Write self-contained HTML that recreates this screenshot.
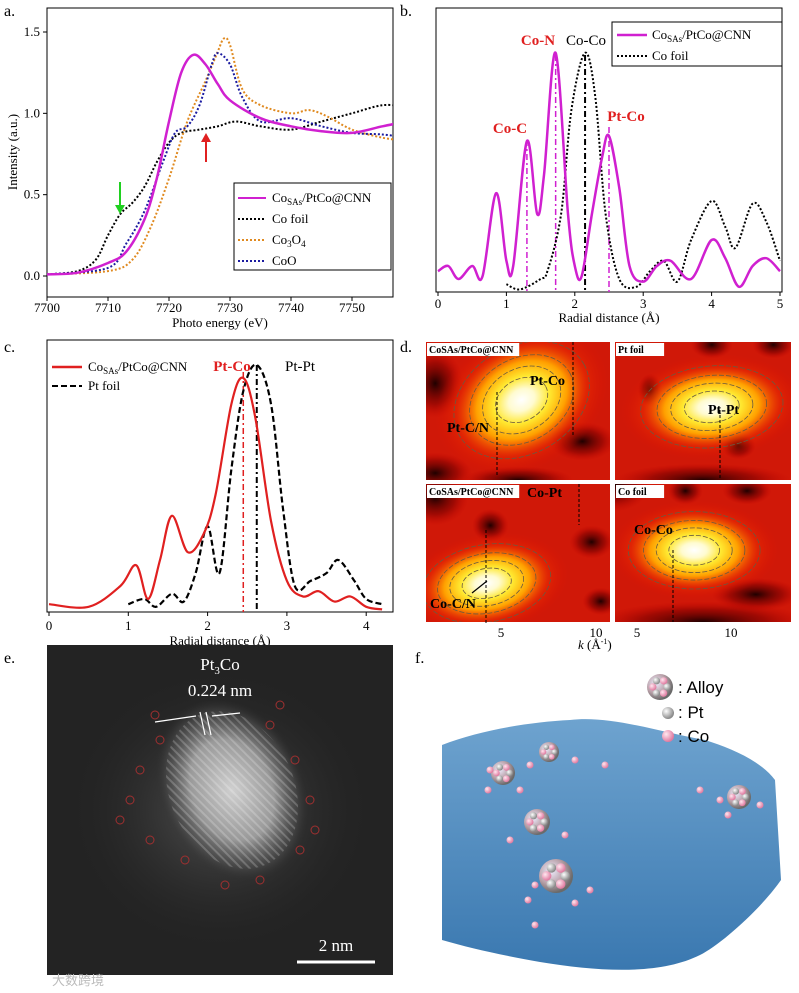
<!DOCTYPE html>
<html><head><meta charset="utf-8"><style>
body{margin:0;background:#fff;}
svg{display:block;font-family:"Liberation Serif",serif;}
</style></head><body>
<svg id="fig" width="799" height="993" viewBox="0 0 799 993" xmlns="http://www.w3.org/2000/svg">
<defs>
 <radialGradient id="hot" cx="50%" cy="50%" r="50%">
  <stop offset="0" stop-color="#ffffff"/><stop offset="0.15" stop-color="#fffbd0"/><stop offset="0.32" stop-color="#ffe830"/><stop offset="0.52" stop-color="#ffa000"/><stop offset="0.75" stop-color="#f03000" stop-opacity="0.5"/><stop offset="1" stop-color="#e01000" stop-opacity="0"/>
 </radialGradient>
 <radialGradient id="dark" cx="50%" cy="50%" r="50%">
  <stop offset="0" stop-color="#200000"/><stop offset="0.6" stop-color="#800000" stop-opacity="0.6"/><stop offset="1" stop-color="#c00000" stop-opacity="0"/>
 </radialGradient>
 <radialGradient id="blob" cx="50%" cy="50%" r="50%">
  <stop offset="0" stop-color="#d0d0d0"/><stop offset="0.55" stop-color="#999"/><stop offset="0.85" stop-color="#505050" stop-opacity="0.6"/><stop offset="1" stop-color="#303030" stop-opacity="0"/>
 </radialGradient>
 <radialGradient id="halo" cx="50%" cy="50%" r="50%">
  <stop offset="0" stop-color="#555"/><stop offset="1" stop-color="#262626" stop-opacity="0"/>
 </radialGradient>
 <radialGradient id="sph" cx="35%" cy="35%" r="65%">
  <stop offset="0" stop-color="#fff"/><stop offset="1" stop-color="#888"/>
 </radialGradient>
 <radialGradient id="sphp" cx="35%" cy="35%" r="65%">
  <stop offset="0" stop-color="#ffe8f0"/><stop offset="1" stop-color="#e07aa0"/>
 </radialGradient>
 <radialGradient id="sphA" cx="35%" cy="35%" r="65%">
  <stop offset="0" stop-color="#eef"/><stop offset="0.6" stop-color="#b9a0a8"/><stop offset="1" stop-color="#6a6a6a"/>
 </radialGradient>
 <linearGradient id="surf" x1="0" y1="0" x2="0" y2="1">
  <stop offset="0" stop-color="#6ea3cf"/><stop offset="1" stop-color="#3a78b0"/>
 </linearGradient>
 <pattern id="stripes" width="6" height="6" patternUnits="userSpaceOnUse" patternTransform="rotate(-20)">
  <rect width="6" height="6" fill="none"/><rect width="2" height="6" fill="#fff" opacity="0.2"/>
 </pattern>
 <clipPath id="clipA"><rect x="47" y="8" width="346" height="289"/></clipPath>
 <clipPath id="clipB"><rect x="436" y="8" width="346" height="284"/></clipPath>
 <clipPath id="clipC"><rect x="47" y="340" width="346" height="272"/></clipPath>
</defs>
<g id="layer"></g>
</svg>
<script>
// ---------- data ----------
const aE_mag=[7700,7705,7710,7713,7716,7718,7720,7722,7724,7726,7728,7730,7735,7740,7745,7750,7755,7759];
const aI_mag=[0.01,0.02,0.08,0.15,0.35,0.6,0.95,1.25,1.36,1.3,1.18,1.08,0.97,0.92,0.89,0.88,0.92,0.95];
const aE_foil=[7700,7705,7708,7710,7712,7714,7716,7718,7720,7722,7725,7728,7731,7735,7740,7745,7750,7755,7759];
const aI_foil=[0.01,0.03,0.1,0.25,0.38,0.45,0.55,0.7,0.82,0.88,0.9,0.92,0.95,0.92,0.9,0.95,1.0,1.05,1.04];
const aE_co3o4=[7700,7710,7714,7717,7720,7723,7726,7728,7729,7730,7732,7735,7740,7743,7746,7750,7755,7759];
const aI_co3o4=[0.01,0.03,0.1,0.3,0.6,0.95,1.2,1.38,1.46,1.42,1.15,1.05,1.0,1.02,0.98,0.9,0.85,0.83];
const aE_coo=[7700,7710,7713,7716,7719,7721,7723,7725,7727,7728,7730,7732,7735,7740,7745,7750,7755,7759];
const aI_coo=[0.01,0.05,0.2,0.4,0.7,0.88,0.92,1.05,1.3,1.37,1.3,1.1,0.95,0.97,0.92,0.88,0.87,0.85];
const aXTicks=[7700,7710,7720,7730,7740,7750];
const aYTicks=[0.0,0.5,1.0,1.5];

const bR_mag=[0,0.15,0.3,0.5,0.65,0.85,1.0,1.1,1.3,1.45,1.55,1.72,1.9,2.0,2.1,2.25,2.4,2.5,2.65,2.8,3.0,3.2,3.4,3.7,4.0,4.2,4.4,4.6,4.8,5.0];
const bV_mag=[0.08,0.1,0.05,0.1,0.06,0.38,0.12,0.1,0.58,0.3,0.45,0.92,0.3,0.1,0.06,0.3,0.52,0.6,0.4,0.1,0.04,0.1,0.12,0.05,0.2,0.13,0.02,0.1,0.13,0.08];
const bR_foil=[1.0,1.2,1.5,1.6,1.8,1.95,2.15,2.3,2.45,2.65,2.9,3.1,3.3,3.5,3.7,4.0,4.2,4.35,4.6,4.8,5.0];
const bV_foil=[0.03,0.01,0.05,0.08,0.3,0.7,0.92,0.75,0.3,0.05,0.02,0.08,0.12,0.04,0.2,0.35,0.25,0.17,0.34,0.27,0.12];
const bXTicks=[0,1,2,3,4,5];

const cR_co=[0,0.5,0.9,1.1,1.25,1.4,1.55,1.75,1.95,2.1,2.3,2.45,2.6,2.8,3.0,3.2,3.4,3.6,3.8,4.0,4.2];
const cV_co=[0.03,0.02,0.1,0.18,0.05,0.2,0.37,0.23,0.3,0.45,0.8,0.9,0.75,0.35,0.12,0.06,0.08,0.04,0.06,0.02,0.01];
const cR_pt=[1.0,1.2,1.35,1.55,1.7,1.85,2.0,2.15,2.3,2.45,2.62,2.8,2.95,3.1,3.3,3.5,3.65,3.85,4.0,4.2];
const cV_pt=[0.03,0.05,0.02,0.07,0.04,0.15,0.33,0.15,0.55,0.85,0.95,0.8,0.4,0.1,0.12,0.15,0.2,0.12,0.05,0.03];
const cXTicks=[0,1,2,3,4];

// ---------- helpers ----------
const NS="http://www.w3.org/2000/svg";
const L=document.getElementById('layer');
function mk(tag,at,parent){const e=document.createElementNS(NS,tag);for(const k in at)e.setAttribute(k,at[k]);(parent||L).appendChild(e);return e;}
function txt(x,y,s,at,parent){const e=mk('text',Object.assign({x:x,y:y,'font-size':13,fill:'#000'},at||{}),parent);e.innerHTML=s;return e;}
function smooth(p){let d='M'+p[0][0].toFixed(1)+','+p[0][1].toFixed(1);
 for(let i=0;i<p.length-1;i++){const p0=p[i-1]||p[i],p1=p[i],p2=p[i+1],p3=p[i+2]||p2;
  const c1=[p1[0]+(p2[0]-p0[0])/6,p1[1]+(p2[1]-p0[1])/6],c2=[p2[0]-(p3[0]-p1[0])/6,p2[1]-(p3[1]-p1[1])/6];
  d+='C'+c1[0].toFixed(1)+','+c1[1].toFixed(1)+' '+c2[0].toFixed(1)+','+c2[1].toFixed(1)+' '+p2[0].toFixed(1)+','+p2[1].toFixed(1);}
 return d;}
function curve(xs,ys,fx,fy,at,name,clip){const p=xs.map((x,i)=>[fx(x),fy(ys[i])]);const e=mk('path',Object.assign({d:smooth(p),fill:'none','clip-path':'url(#'+clip+')'},at));
 
 
 return e;}
function frame(x0,y0,x1,y1,name){const e=mk('rect',{x:x0,y:y0,width:x1-x0,height:y1-y0,fill:'none',stroke:'#000','stroke-width':1});
 
 }

// ---------- panel a ----------
const ax=v=>47+(v-7700)*(305/50), ay=v=>276-v*(244/1.5);
frame(47,8,393,297,'plot-frame-a');
aXTicks.forEach(t=>{mk('line',{x1:ax(t),x2:ax(t),y1:297,y2:301,stroke:'#000'});const e=txt(ax(t),312,t,{'text-anchor':'middle'});
 
 });
aYTicks.forEach(t=>{mk('line',{x1:43,x2:47,y1:ay(t),y2:ay(t),stroke:'#000'});const e=txt(40,ay(t)+4,t.toFixed(1),{'text-anchor':'end'});
 
 });
txt(220,327,'Photo energy (eV)',{'text-anchor':'middle','font-size':13});
txt(17,152,'Intensity (a.u.)',{'text-anchor':'middle',transform:'rotate(-90 17 152)','font-size':13});
curve(aE_foil,aI_foil,ax,ay,{stroke:'#000','stroke-width':2,'stroke-dasharray':'2,2'},'co-foil-line-a','clipA');
curve(aE_co3o4,aI_co3o4,ax,ay,{stroke:'#e08a20','stroke-width':2,'stroke-dasharray':'2,2'},'co3o4-line','clipA');
curve(aE_coo,aI_coo,ax,ay,{stroke:'#1a1aa0','stroke-width':2,'stroke-dasharray':'2,2'},'coo-line','clipA');
curve(aE_mag,aI_mag,ax,ay,{stroke:'#d020d0','stroke-width':2.5},'cosas-line-a','clipA');
mk('path',{d:'M120,182 L120,208',stroke:'#20d020','stroke-width':2});mk('path',{d:'M115,205 L120,214 L125,205Z',fill:'#20d020'});
mk('path',{d:'M206,162 L206,138',stroke:'#e02020','stroke-width':2});mk('path',{d:'M201,142 L206,133 L211,142Z',fill:'#e02020'});
const lg=mk('g',{});
mk('rect',{x:234,y:183,width:157,height:87,fill:'#fff',stroke:'#000'},lg);
[['Co<tspan font-size="9" dy="3">SAs</tspan><tspan dy="-3">/PtCo@CNN</tspan>','#d020d0',''],['Co foil','#000','2,2'],['Co<tspan font-size="9" dy="3">3</tspan><tspan dy="-3">O</tspan><tspan font-size="9" dy="3">4</tspan>','#e08a20','2,2'],['CoO','#1a1aa0','2,2']].forEach((r,i)=>{
 const y=198+i*21;mk('line',{x1:238,x2:266,y1:y,y2:y,stroke:r[1],'stroke-width':2,'stroke-dasharray':r[2]},lg);txt(272,y+4,r[0],{},lg);});

// ---------- panel b ----------
const bx=v=>438+v*68.4, by=v=>292-v*260;
frame(436,8,782,292,'plot-frame-b');
bXTicks.forEach(t=>{mk('line',{x1:bx(t),x2:bx(t),y1:292,y2:296,stroke:'#000'});const e=txt(bx(t),308,t,{'text-anchor':'middle'});
 
 });
txt(609,322,'Radial distance (Å)',{'text-anchor':'middle'});
[[1.3,'#d020d0',140],[1.72,'#d020d0',55],[2.5,'#d020d0',127]].forEach(r=>mk('line',{x1:bx(r[0]),x2:bx(r[0]),y1:r[2],y2:292,stroke:r[1],'stroke-width':1.5,'stroke-dasharray':'6,3,2,3'}));
mk('line',{x1:bx(2.15),x2:bx(2.15),y1:55,y2:292,stroke:'#000','stroke-width':2,'stroke-dasharray':'6,3,2,3'});
curve(bR_foil,bV_foil,bx,by,{stroke:'#000','stroke-width':2,'stroke-dasharray':'2,2'},'co-foil-line-b','clipB');
curve(bR_mag,bV_mag,bx,by,{stroke:'#d020d0','stroke-width':2.5},'cosas-line-b','clipB');
txt(538,45,'Co-N',{'text-anchor':'middle','font-weight':'bold',fill:'#e02020','font-size':15});
txt(586,45,'Co-Co',{'text-anchor':'middle','font-size':15});
txt(510,133,'Co-C',{'text-anchor':'middle','font-weight':'bold',fill:'#e02020','font-size':15});
txt(626,121,'Pt-Co',{'text-anchor':'middle','font-weight':'bold',fill:'#e02020','font-size':15});
const lgb=mk('g',{});
mk('rect',{x:612,y:22,width:170,height:44,fill:'#fff',stroke:'#000'},lgb);
mk('line',{x1:617,x2:647,y1:35,y2:35,stroke:'#d020d0','stroke-width':2.5},lgb);txt(652,39,'Co<tspan font-size="9" dy="3">SAs</tspan><tspan dy="-3">/PtCo@CNN</tspan>',{},lgb);
mk('line',{x1:617,x2:647,y1:56,y2:56,stroke:'#000','stroke-width':2,'stroke-dasharray':'2,2'},lgb);txt(652,60,'Co foil',{},lgb);

// ---------- panel c ----------
const cx=v=>49+v*79.3, cy=v=>612-v*260;
frame(47,340,393,612,'plot-frame-c');
cXTicks.forEach(t=>{mk('line',{x1:cx(t),x2:cx(t),y1:612,y2:616,stroke:'#000'});const e=txt(cx(t),630,t,{'text-anchor':'middle'});
 
 });
txt(220,645,'Radial distance (Å)',{'text-anchor':'middle'});
mk('line',{x1:cx(2.45),x2:cx(2.45),y1:372,y2:612,stroke:'#e02020','stroke-width':1.5,'stroke-dasharray':'6,3,2,3'});
mk('line',{x1:cx(2.62),x2:cx(2.62),y1:365,y2:612,stroke:'#000','stroke-width':2,'stroke-dasharray':'6,3,2,3'});
curve(cR_pt,cV_pt,cx,cy,{stroke:'#000','stroke-width':2.2,'stroke-dasharray':'6,3'},'pt-foil-line','clipC');
curve(cR_co,cV_co,cx,cy,{stroke:'#e02020','stroke-width':2.2},'cosas-line-c','clipC');
txt(232,371,'Pt-Co',{'text-anchor':'middle','font-weight':'bold',fill:'#e02020','font-size':15});
txt(300,371,'Pt-Pt',{'text-anchor':'middle','font-size':15});
const lgc=mk('g',{});
mk('line',{x1:52,x2:82,y1:367,y2:367,stroke:'#e02020','stroke-width':2.5},lgc);txt(88,371,'Co<tspan font-size="9" dy="3">SAs</tspan><tspan dy="-3">/PtCo@CNN</tspan>',{},lgc);
mk('line',{x1:52,x2:82,y1:386,y2:386,stroke:'#000','stroke-width':2,'stroke-dasharray':'6,3'},lgc);txt(88,390,'Pt foil',{},lgc);

// ---------- panel d (heatmaps, illustrative) ----------
function heat(x,y,w,h,blobs,darks,label,name){const g=mk('g',{});
 const cid='clip'+name;const cp=mk('clipPath',{id:cid},g);mk('rect',{x:x,y:y,width:w,height:h},cp);
 const gg=mk('g',{'clip-path':'url(#'+cid+')'},g);
 mk('rect',{x:x,y:y,width:w,height:h,fill:'#d01808'},gg);
 darks.forEach(d=>mk('ellipse',{cx:x+d[0]*w,cy:y+d[1]*h,rx:d[2]*w,ry:d[3]*h,fill:'url(#dark)'},gg));
 blobs.forEach(b=>{const tr='rotate('+b[4]+' '+(x+b[0]*w)+' '+(y+b[1]*h)+')';
  mk('ellipse',{cx:x+b[0]*w,cy:y+b[1]*h,rx:b[2]*w,ry:b[3]*h,fill:'url(#hot)',transform:tr},gg);
  [0.3,0.45,0.6,0.78].forEach(s=>mk('ellipse',{cx:x+b[0]*w,cy:y+b[1]*h,rx:b[2]*w*s,ry:b[3]*h*s,fill:'none',stroke:'#6a5a40','stroke-width':0.8,'stroke-dasharray':'5,2',transform:tr},gg));});
 mk('rect',{x:x+1,y:y+1,width:label.length*6.3+4,height:13,fill:'#fff'},g);
 txt(x+3,y+11,label,{'font-size':10,'font-weight':'bold'},g);}
heat(426,342,184,138,[[0.52,0.42,0.5,0.5,-30]],[[0.05,0.3,0.15,0.25],[0.85,0.72,0.18,0.14],[0.5,1,0.3,0.1],[0.05,0.95,0.2,0.15]],'CoSAs/PtCo@CNN','heatmap-cosas-pt');
heat(615,342,176,138,[[0.55,0.47,0.52,0.38,-5]],[[0.2,0.35,0.07,0.12],[0.7,0.75,0.1,0.1],[0.55,0.02,0.12,0.1],[0.9,0.02,0.12,0.1],[0.5,1,0.5,0.12]],'Pt foil','heatmap-pt-foil');
heat(426,484,184,138,[[0.33,0.72,0.45,0.36,-10]],[[0.35,0.3,0.1,0.12],[0.9,0.42,0.12,0.12],[0.05,0.1,0.18,0.2],[0.95,0.85,0.1,0.1]],'CoSAs/PtCo@CNN','heatmap-cosas-co');
heat(615,484,176,138,[[0.45,0.48,0.48,0.36,0]],[[0.4,0.05,0.1,0.1],[0.75,0.05,0.14,0.1],[0.8,0.8,0.25,0.12],[0.5,1,0.6,0.15],[0.0,0.0,0.2,0.2]],'Co foil','heatmap-co-foil');
[[497,392,476],[573,342,436],[720,410,480],[486,530,625],[579,484,525],[673,550,622]].forEach(l=>mk('line',{x1:l[0],x2:l[0],y1:l[1],y2:l[2],stroke:'#000','stroke-dasharray':'3,2'}));
txt(530,385,'Pt-Co',{'font-size':14,'font-weight':'bold'});
txt(447,432,'Pt-C/N',{'font-size':14,'font-weight':'bold'});
txt(708,414,'Pt-Pt',{'font-size':14,'font-weight':'bold'});
txt(527,497,'Co-Pt',{'font-size':14,'font-weight':'bold'});
txt(634,534,'Co-Co',{'font-size':14,'font-weight':'bold'});
txt(430,608,'Co-C/N',{'font-size':14,'font-weight':'bold'});
mk('line',{x1:472,y1:593,x2:487,y2:581,stroke:'#000','stroke-width':1.2});
txt(501,637,'5',{'font-size':13,'text-anchor':'middle'});txt(596,637,'10',{'font-size':13,'text-anchor':'middle'});
txt(637,637,'5',{'font-size':13,'text-anchor':'middle'});txt(731,637,'10',{'font-size':13,'text-anchor':'middle'});
txt(578,649,'<tspan font-style="italic">k</tspan> (Å<tspan font-size="8" dy="-5">-1</tspan><tspan dy="5">)</tspan>',{'font-size':13});

// ---------- panel e ----------
const ge=mk('g',{});
mk('rect',{x:47,y:645,width:346,height:330,fill:'#232323'},ge);
mk('ellipse',{cx:220,cy:810,rx:150,ry:140,fill:'url(#halo)'},ge);
mk('ellipse',{cx:232,cy:790,rx:72,ry:95,fill:'url(#blob)',transform:'rotate(-25 232 790)'},ge);
mk('ellipse',{cx:232,cy:790,rx:62,ry:82,fill:'url(#stripes)',transform:'rotate(-25 232 790)'},ge);
[[160,740],[140,770],[130,800],[150,840],[185,860],[270,725],[295,760],[310,800],[300,850],[260,880],[225,885],[120,820],[315,830],[280,705],[155,715]].forEach(p=>mk('circle',{cx:p[0],cy:p[1],r:4,fill:'none',stroke:'#a03030','stroke-width':1},ge));
txt(220,670,'Pt<tspan font-size="11" dy="4">3</tspan><tspan dy="-4">Co</tspan>',{'text-anchor':'middle',fill:'#fff','font-size':17});
txt(220,696,'0.224 nm',{'text-anchor':'middle',fill:'#fff','font-size':17});
mk('line',{x1:155,y1:722,x2:196,y2:716,stroke:'#fff','stroke-width':1.2});mk('line',{x1:240,y1:713,x2:212,y2:716,stroke:'#fff','stroke-width':1.2});
mk('line',{x1:200,y1:712,x2:205,y2:735,stroke:'#fff','stroke-width':1.2});mk('line',{x1:206,y1:712,x2:211,y2:735,stroke:'#fff','stroke-width':1.2});
mk('line',{x1:297,y1:962,x2:375,y2:962,stroke:'#fff','stroke-width':3});
txt(336,951,'2 nm',{'text-anchor':'middle',fill:'#fff','font-size':17});
txt(52,985,'大数跨境',{fill:'#bbb','font-size':13,'font-family':'"Liberation Sans","Noto Sans CJK SC",sans-serif'});

// ---------- panel f ----------
const gf=mk('g',{});
mk('path',{d:'M442,745 C480,730 530,722 570,720 C610,715 660,732 705,740 C730,748 760,760 775,780 L781,880 C760,910 720,945 700,955 C660,975 600,972 540,962 C500,955 470,948 442,940 Z',fill:'url(#surf)'},gf);
function cluster(x,y,r){mk('circle',{cx:x,cy:y,r:r,fill:'url(#sphA)'},gf);for(let i=0;i<6;i++){const a=i*1.05;mk('circle',{cx:x+Math.cos(a)*r*0.55,cy:y+Math.sin(a)*r*0.55,r:r*0.28,fill:i%2?'url(#sphp)':'url(#sph)'},gf);}}
[[503,773,12],[549,752,10],[739,797,12],[537,822,13],[556,876,17]].forEach(c=>cluster(c[0],c[1],c[2]));
[[488,790],[520,790],[575,760],[530,765],[720,800],[760,805],[728,815],[510,840],[565,835],[528,900],[590,890],[575,903],[535,925],[535,885],[700,790],[605,765],[490,770]].forEach(p=>mk('circle',{cx:p[0],cy:p[1],r:3.5,fill:'url(#sphp)'},gf));
cluster(660,687,13);
mk('circle',{cx:668,cy:713,r:6,fill:'url(#sph)'});mk('circle',{cx:668,cy:736,r:6,fill:'url(#sphp)'});
txt(678,693,': Alloy',{'font-size':17,'font-family':'"Liberation Sans",sans-serif'});
txt(678,718,': Pt',{'font-size':17,'font-family':'"Liberation Sans",sans-serif'});
txt(678,742,': Co',{'font-size':17,'font-family':'"Liberation Sans",sans-serif'});

[['a.',4,16],['b.',400,16],['c.',4,352],['d.',400,352],['e.',4,663],['f.',415,663]].forEach(p=>{const e=txt(p[1],p[2],p[0],{'font-size':16});
 
 });
</script>
</body></html>
